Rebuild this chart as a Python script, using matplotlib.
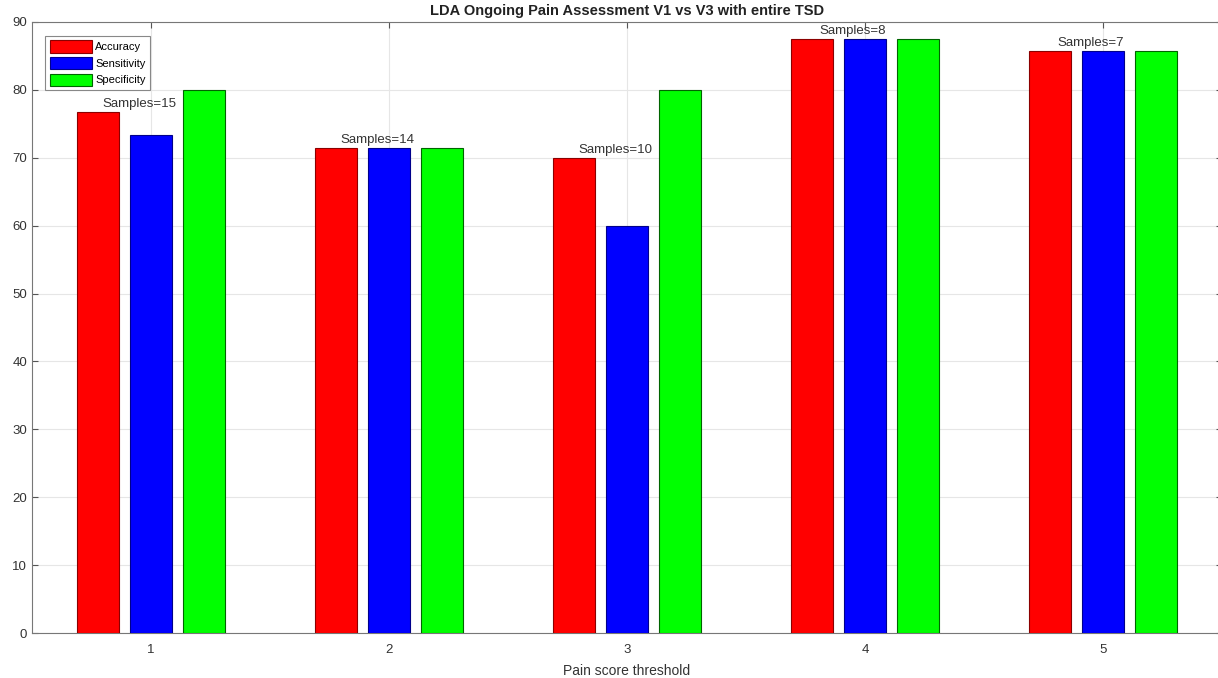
import numpy as np
import matplotlib.pyplot as plt

plt.rcParams['font.family'] = ['Liberation Sans', 'DejaVu Sans']

thresholds = [1, 2, 3, 4, 5]
accuracy = [76.67, 71.43, 70.0, 87.5, 85.71]
sensitivity = [73.33, 71.43, 60.0, 87.5, 85.71]
specificity = [80.0, 71.43, 80.0, 87.5, 85.71]
samples = [15, 14, 10, 8, 7]

series = [("Accuracy", accuracy, "#ff0000", "#8b0000"),
          ("Sensitivity", sensitivity, "#0000ff", "#00008b"),
          ("Specificity", specificity, "#00ff00", "#006400")]

fig = plt.figure(figsize=(12.18, 6.78), dpi=100)
ax = fig.add_axes([32 / 1218, 45 / 678, 1190 / 1218, 611 / 678])

x = np.array(thresholds, dtype=float)
step = 0.222
width = 0.178
for i, (name, vals, color, edge) in enumerate(series):
    ax.bar(x + (i - 1) * step, vals, width, color=color, edgecolor=edge,
           linewidth=0.8, label=name, zorder=3)

for xi, acc, n in zip(x, accuracy, samples):
    ax.text(xi - 0.05, acc + 0.3, f"Samples={n}", ha='center', va='bottom',
            fontsize=9.5, color='#333333', zorder=4)

ax.set_xlim(0.5, 5.5)
ax.set_ylim(0, 90)
ax.set_xticks(thresholds)
ax.set_yticks(range(0, 91, 10))
ax.grid(True, color='#e6e6e6', linewidth=0.8, zorder=0)
ax.set_axisbelow(True)
ax.tick_params(direction='in', top=True, right=True, labelsize=9.5,
               colors='#555555', labelcolor='#333333', length=4)
ax.tick_params(axis='x', pad=8)
for s in ax.spines.values():
    s.set_color('#777777')
    s.set_linewidth(0.8)

ax.set_title("LDA Ongoing Pain Assessment V1 vs V3 with entire TSD",
             fontsize=10.5, fontweight='bold', color='#222222', pad=5)
ax.set_xlabel("Pain score threshold", fontsize=10, color='#333333', labelpad=6)

leg = ax.legend(loc='upper left', bbox_to_anchor=(0.011, 0.977), fontsize=8,
                handlelength=3.8, handleheight=1.3, labelspacing=0.4,
                handletextpad=0.3, borderpad=0.4, fancybox=False,
                framealpha=1, edgecolor='#888888', borderaxespad=0)
leg.get_frame().set_linewidth(0.8)

fig.savefig("out.png", dpi=100)
